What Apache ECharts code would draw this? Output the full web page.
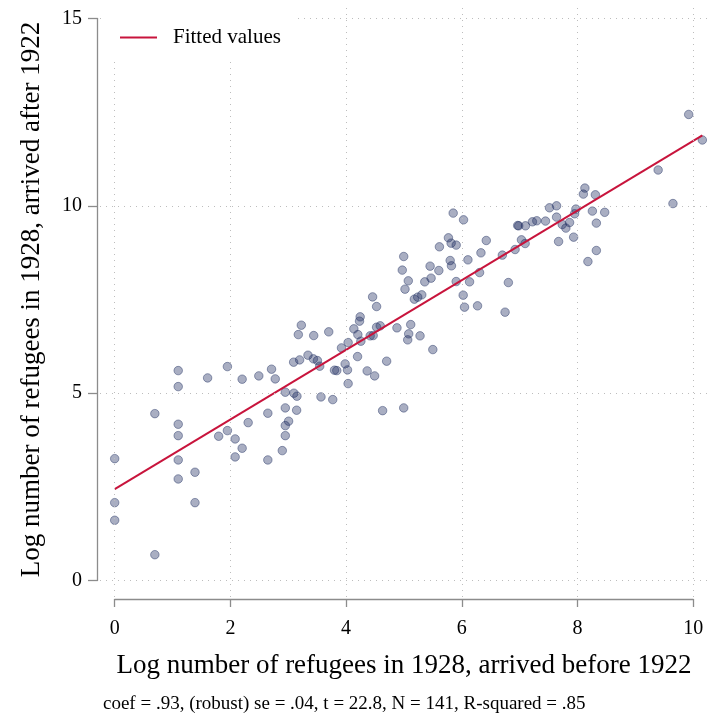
<!DOCTYPE html>
<html>
<head>
<meta charset="utf-8">
<script src="https://cdn.jsdelivr.net/npm/echarts@6/dist/echarts.min.js"></script>
<style>
  html, body { margin: 0; padding: 0; background: #fff; }
  #chart { width: 709px; height: 718px; }
</style>
</head>
<body>
<div id="chart"></div>
<script>
// Log number of refugees per locality in 1928: arrived before 1922 (x) and after 1922 (y)
const logBefore = [
  3.174, 1.098, 1.098, 1.606, 1.948, 2.203, 2.491, 2.711, 2.775, 3.093,
  3.197, 2.949, 3.098, 3.150, 0.694, 1.098, 1.098, 1.098, 1.098, 1.388,
  1.388, 0.000, 0.000, 0.000, 0.694, 1.797, 1.948, 2.082, 2.203, 2.082,
  2.307, 2.647, 2.647, 2.897, 2.949, 3.006, 2.949, 2.949, 3.145,
  5.075, 5.360, 5.469, 5.903, 6.134, 4.458, 4.527, 5.018, 5.180, 5.238,
  5.308, 6.024, 6.047, 6.272, 3.226, 3.440, 3.700, 4.243, 4.232, 4.134,
  4.203, 4.255, 4.035, 3.920, 4.416, 4.468, 4.527, 4.590, 4.879, 5.117,
  5.082, 5.065, 5.278, 5.499, 3.341, 3.435, 3.504, 3.544, 3.799, 3.839,
  3.983, 4.024, 4.198, 4.035, 4.364, 4.493, 4.701, 3.566, 3.769, 4.631,
  4.996,
  8.128, 8.101, 8.309, 7.516, 7.638, 7.972, 7.950, 8.257, 8.470, 7.638,
  8.326, 7.736, 7.799, 7.863, 5.851, 6.030, 6.966, 6.984, 7.100, 7.221,
  7.296, 7.447, 7.673, 7.933, 8.326, 8.180, 7.031, 7.095, 6.921, 6.701,
  5.769, 5.816, 5.903, 5.613, 6.423, 6.331, 6.106, 5.799, 5.821, 5.603,
  5.452, 4.996, 4.971, 6.307, 6.805, 6.748,
  9.922, 10.158, 9.394, 9.650
];
const logAfter = [
  6.564, 5.603, 5.176, 5.408, 5.710, 5.374, 5.462, 5.641, 5.382, 5.828,
  5.889, 5.027, 5.000, 4.920, 4.455, 4.172, 3.868, 3.219, 2.712, 2.891,
  2.080, 3.254, 2.080, 1.610, 0.691, 3.852, 4.002, 3.780, 3.532, 3.300,
  4.215, 4.466, 3.219, 3.468, 4.608, 4.253, 4.135, 3.868, 4.546,
  7.998, 7.971, 8.070, 7.979, 7.971, 7.570, 7.312, 7.776, 7.509, 7.563,
  7.624, 7.616, 7.296, 7.331, 6.815, 6.538, 6.637, 7.037, 6.922, 6.717,
  6.564, 6.388, 6.351, 6.209, 6.530, 6.538, 6.762, 6.797, 6.743, 6.831,
  6.583, 6.423, 6.530, 6.164, 6.014, 5.916, 5.870, 5.721, 5.614, 5.603,
  5.782, 5.622, 5.977, 5.256, 5.595, 5.462, 5.854, 4.901, 4.829, 4.535,
  4.608,
  10.473, 10.312, 10.294, 9.947, 10.000, 9.912, 9.787, 9.859, 9.826, 9.698,
  9.538, 9.501, 9.405, 9.554, 9.805, 9.626, 9.474, 9.466, 9.466, 9.573,
  9.600, 9.592, 9.047, 9.164, 8.807, 8.513, 9.092, 8.994, 8.834, 8.684,
  9.146, 9.004, 8.951, 8.906, 9.074, 8.745, 8.558, 8.540, 8.398, 8.273,
  8.390, 8.647, 8.284, 8.219, 7.952, 7.162,
  12.437, 11.756, 10.955, 10.060
];

// Fitted values at the ends of the observed x range
const fitX = [0, 10.158];
const fitY = [2.44, 11.88];

const xTicks = [0, 2, 4, 6, 8, 10];
const yTicks = [0, 5, 10, 15];

const xTitle = 'Log number of refugees in 1928, arrived before 1922';
const yTitle = 'Log number of refugees in 1928, arrived after 1922';
const seriesName = 'Fitted values';
const noteText = 'coef = .93, (robust) se = .04, t = 22.8, N = 141, R-squared = .85';

const FONT = "'Liberation Serif', 'Times New Roman', serif";

// Labelled axis span in pixels (x = 0..10, y = 0..15)
const AX_L = 114.7, AX_R = 693.2, AX_B = 580.6, AX_T = 18.4;
// Plot region, a little wider than the labelled span
const PL = 100, PR = 709, PT = 3, PB = 597;

const xUnit = 10 / (AX_R - AX_L);
const yUnit = 15 / (AX_B - AX_T);
const xMin = (PL - AX_L) * xUnit, xMax = 10 + (PR - AX_R) * xUnit;
const yMin = -(PB - AX_B) * yUnit, yMax = 15 + (AX_T - PT) * yUnit;

const points = logBefore.map((x, i) => [x, logAfter[i]]);
const fitLine = fitX.map((x, i) => [x, fitY[i]]);

const axisGray = '#8c8c8c';
const lineRed = '#c8143c';
const gridDots = { color: '#bdbdbd', width: 1, type: [1, 5] };

const chart = echarts.init(document.getElementById('chart'), null, { renderer: 'canvas' });

chart.setOption({
  animation: false,
  backgroundColor: '#fff',
  textStyle: { fontFamily: FONT },
  grid: [
    { left: PL, top: PT, width: PR - PL, height: PB - PT, outerBoundsMode: 'none', containLabel: false },
    { left: AX_L, top: AX_T, width: AX_R - AX_L, height: AX_B - AX_T, outerBoundsMode: 'none', containLabel: false }
  ],
  xAxis: [
    { gridIndex: 0, type: 'value', min: xMin, max: xMax, show: false },
    {
      gridIndex: 1, type: 'value', min: 0, max: 10, interval: 2, position: 'bottom',
      offset: 18.4,
      axisLine: { show: true, onZero: false, lineStyle: { color: axisGray, width: 1.3 } },
      axisTick: { show: true, inside: false, length: 8, lineStyle: { color: axisGray, width: 1.3 } },
      axisLabel: { show: true, margin: 20, color: '#000', fontSize: 20, fontFamily: FONT },
      splitLine: { show: false },
      name: xTitle, nameLocation: 'middle', nameGap: 53,
      nameTextStyle: { color: '#000', fontSize: 27, fontFamily: FONT }
    }
  ],
  yAxis: [
    { gridIndex: 0, type: 'value', min: yMin, max: yMax, show: false },
    {
      gridIndex: 1, type: 'value', min: 0, max: 15, interval: 5, position: 'left',
      offset: 17.7,
      axisLine: { show: true, onZero: false, lineStyle: { color: axisGray, width: 1.3 } },
      axisTick: { show: true, inside: false, length: 9, lineStyle: { color: axisGray, width: 1.3 } },
      axisLabel: { show: true, margin: 15, color: '#000', fontSize: 20, fontFamily: FONT },
      splitLine: { show: false },
      name: yTitle, nameLocation: 'middle', nameGap: 52, nameRotate: 90,
      nameTextStyle: { color: '#000', fontSize: 27, fontFamily: FONT }
    }
  ],
  legend: {
    show: true,
    data: [{ name: seriesName, icon: 'rect' }],
    left: 106, top: 0,
    padding: [27, 17, 10, 14],
    backgroundColor: '#fff',
    itemWidth: 37, itemHeight: 2,
    textStyle: { color: '#000', fontSize: 21, fontFamily: FONT, padding: [0, 0, 0, 11] },
    selectedMode: false,
    z: 10
  },
  series: [
    {
      // dotted reference grid drawn across the whole plot region
      type: 'scatter', xAxisIndex: 0, yAxisIndex: 0, data: [], z: 1, silent: true,
      markLine: {
        silent: true, symbol: ['none', 'none'], label: { show: false },
        emphasis: { disabled: true },
        lineStyle: gridDots,
        data: xTicks.map(v => ({ xAxis: v })).concat(yTicks.map(v => ({ yAxis: v })))
      }
    },
    {
      type: 'scatter', xAxisIndex: 0, yAxisIndex: 0, data: points, z: 2,
      symbol: 'circle', symbolSize: 8.5, silent: true,
      itemStyle: { color: 'rgba(30,45,95,0.48)', borderColor: 'rgba(30,45,95,0.55)', borderWidth: 1 }
    },
    {
      name: seriesName, type: 'line', xAxisIndex: 0, yAxisIndex: 0, data: fitLine, z: 3,
      symbol: 'none', silent: true,
      lineStyle: { color: lineRed, width: 2 },
      itemStyle: { color: lineRed }
    }
  ],
  graphic: [
    {
      type: 'text', left: 103, top: 695, silent: true,
      style: { text: noteText, fill: '#000', font: '19px ' + FONT }
    }
  ]
});
</script>
</body>
</html>
